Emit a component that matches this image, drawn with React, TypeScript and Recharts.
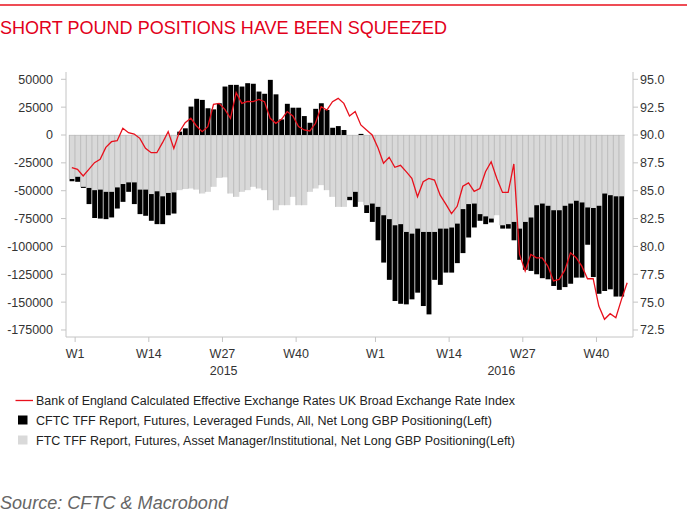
// Short pound positions: CFTC positioning bars (left) vs BoE sterling index (right)

import React from 'react';
import { ComposedChart, Bar, Line, XAxis, YAxis } from 'recharts';

// weekly categories, 2015 W1 .. 2016 W46
const weeks: string[] = [
  ...Array.from({ length: 53 }, (_, k) => `2015 W${k + 1}`),
  ...Array.from({ length: 46 }, (_, k) => `2016 W${k + 1}`),
];

// Asset Manager/Institutional net long GBP (contracts)
const assetManagers: (number | null)[] = [
  -39500, -37500, -46500, -47500, -49500, -49000, -51000, -51000, -47000, -44000,
  -42500, -42500, -49000, -49000, -53000, -50500, -55000, -52000, -51500, -49500,
  -48500, -48000, -49000, -52500, -51000, -46500, -38500, -38000, -52500, -55500,
  -51000, -49500, -46500, -48000, -49500, -58500, -67500, -63000, -63000, -55500,
  -63000, -63000, -51000, -48000, -45000, -49500, -55500, -64500, -64500, -55500,
  -51000, -60000, -63000, -61500, -64500, -72000, -75500, -81000, -80000, -87000,
  -88500, -84000, -87000, -87000, -87000, -84000, -84000, -83000, -79500, -66500,
  -62000, -61500, -71000, -73000, -75000, -72000, -81000, -80000, -78000, -84000,
  -78000, -74000, -63000, -61500, -63500, -67500, -67500, -63500, -61500, -59000,
  -60500, -65000, -65500, -63500, -52500, -54000, -55000, -55000, null,
];

// Leveraged Funds net long GBP (contracts)
const leveragedFunds: (number | null)[] = [
  -2000, -4500, -1000, -14500, -25000, -26000, -24500, -23000, -19000, -16000,
  -8500, -19500, -22000, -23500, -24000, -29500, -25000, -20000, -19000, 3000,
  6000, 25500, 32500, 31500, 24000, 23000, 28500, 43500, 45000, 45000,
  43500, 46500, 46000, 39000, 37000, 49500, 36500, 14000, 28000, 24500,
  24500, 17000, 11000, 23500, 28500, 22500, 6500, 8000, 4500, -3000,
  -13500, 1000, -7000, -16500, -30000, -42500, -54500, -68000, -71500, -65000,
  -59000, -57500, -66500, -74000, -43000, -50500, -39500, -40500, -35500, -39500,
  -30000, -21500, -6000, -7000, -3500, 0, -3000, -4000, -16500, -28000,
  -43000, -48000, -62000, -67000, -66000, -68000, -71500, -73000, -72000, -69000,
  -67500, -33500, -62000, -79000, -87500, -84500, -90000, -90000, null,
];

// BoE UK broad effective exchange rate index
const sterlingIndex: number[] = [
  87.07, 86.92, 86.32, 86.92, 87.52, 87.82, 88.89, 89.4, 89.49, 90.6,
  90.21, 90.09, 89.7, 88.8, 88.41, 88.41, 89.31, 90.3, 88.8, 90.3,
  91.11, 91.5, 90.81, 90.3, 90.75, 92.75, 92.84, 92.3, 91.5, 93.8,
  92.84, 93.02, 92.99, 93.2, 92.99, 91.5, 91.05, 91.41, 92.1, 91.71,
  90.75, 90.45, 90.36, 91.05, 92.54, 92.24, 92.99, 93.29, 92.84, 91.71,
  92.1, 90.9, 90.45, 90.0, 88.89, 87.46, 88.0, 87.1, 87.28, 86.71,
  86.11, 84.46, 85.81, 86.11, 85.96, 84.6, 83.8, 82.95, 83.6, 85.4,
  85.7, 84.94, 85.2, 86.7, 87.6, 86.1, 84.85, 84.85, 87.4, 79.28,
  77.8, 79.28, 78.98, 78.98, 78.23, 76.9, 77.04, 77.87, 79.43, 78.98,
  78.23, 77.1, 77.1, 74.65, 73.46, 73.96, 73.6, 75.25, 76.74,
];

const leftTicks = [50000, 25000, 0, -25000, -50000, -75000, -100000, -125000, -150000, -175000];
const rightTicks = [95, 92.5, 90, 87.5, 85, 82.5, 80, 77.5, 75, 72.5];
const weekTicks = ['2015 W1', '2015 W14', '2015 W27', '2015 W40', '2016 W1', '2016 W14', '2016 W27', '2016 W40'];
const yearTicks: Record<string, string> = { '2015 W27': '2015', '2016 W23': '2016' };

const legendItems = [
  'Bank of England Calculated Effective Exchange Rates UK Broad Exchange Rate Index',
  'CFTC TFF Report, Futures, Leveraged Funds, All, Net Long GBP Positioning(Left)',
  'FTC TFF Report, Futures, Asset Manager/Institutional, Net Long GBP Positioning(Left)',
];

const RED = '#e8101c';
const FONT = '"Liberation Sans", Arial, sans-serif';

const chartData = weeks.map((w, i) => ({
  week: w,
  asset: assetManagers[i],
  lev: leveragedFunds[i],
  gbp: sterlingIndex[i],
}));

function BlackBar(props: any) {
  const { x, y, width, height } = props;
  if (!height) return <g />;
  const top = height < 0 ? y + height : y;
  return <rect x={x + 0.55} y={top} width={Math.max(width - 1.1, 0)} height={Math.abs(height)} fill="#000" />;
}

function GrayBar(props: any) {
  const { x, y, width, height } = props;
  if (!height) return <g />;
  const top = height < 0 ? y + height : y;
  return (
    <g>
      <rect x={x} y={top} width={width} height={Math.abs(height)} fill="#d9d9d9" />
      <line x1={x + 0.3} x2={x + 0.3} y1={top} y2={top + Math.abs(height)} stroke="#b4b4b4" strokeWidth={0.8} />
      <line x1={x} x2={x + width} y1={top + 0.3} y2={top + 0.3} stroke="#b4b4b4" strokeWidth={0.6} />
    </g>
  );
}

function WeekTick(props: any) {
  const { x, y, payload } = props;
  const cat: string = payload.value;
  const tx = x + 3.3;
  return (
    <g>
      {weekTicks.includes(cat) && (
        <g>
          <line x1={tx} x2={tx} y1={y} y2={y + 5} stroke="#c4c4c4" />
          <text x={tx} y={y + 21} textAnchor="middle" fontSize={12.5} fill="#333" fontFamily={FONT}>
            {cat.split(' ')[1]}
          </text>
        </g>
      )}
      {yearTicks[cat] && (
        <text x={x + 4.5} y={y + 38} textAnchor="middle" fontSize={12.5} fill="#333" fontFamily={FONT}>
          {yearTicks[cat]}
        </text>
      )}
    </g>
  );
}

export default function App() {
  return (
    <div style={{ position: 'absolute', left: 0, top: 0, width: 687, height: 514, background: '#fff' }}>
      <ComposedChart
        width={687}
        height={514}
        data={chartData}
        stackOffset="sign"
        barCategoryGap={0}
        margin={{ top: 72, right: 0, bottom: 132, left: 0 }}
        style={{ fontFamily: FONT }}
      >
        <XAxis
          dataKey="week"
          interval={0}
          tickLine={false}
          tickSize={0}
          tickMargin={0}
          height={45}
          padding={{ left: 3, right: 3 }}
          axisLine={{ stroke: '#c4c4c4' }}
          tick={(p: any) => <WeekTick {...p} />}
        />
        <YAxis
          yAxisId="left"
          type="number"
          domain={[-181300, 56550]}
          allowDataOverflow
          ticks={leftTicks}
          width={66}
          tickSize={5}
          tickMargin={8}
          axisLine={{ stroke: '#c4c4c4' }}
          tickLine={{ stroke: '#c4c4c4' }}
          tick={{ fill: '#333', fontSize: 12.5 }}
        />
        <YAxis
          yAxisId="right"
          orientation="right"
          type="number"
          domain={[71.87, 95.655]}
          allowDataOverflow
          ticks={rightTicks}
          width={54}
          tickSize={5}
          tickMargin={2}
          axisLine={{ stroke: '#c4c4c4' }}
          tickLine={{ stroke: '#c4c4c4' }}
          tick={{ fill: '#333', fontSize: 12.5 }}
          tickFormatter={(v: number) => v.toFixed(1)}
        />
        <Bar yAxisId="left" dataKey="asset" stackId="pos" shape={GrayBar} isAnimationActive={false} />
        <Bar yAxisId="left" dataKey="lev" stackId="pos" shape={BlackBar} isAnimationActive={false} />
        <Line
          yAxisId="right"
          dataKey="gbp"
          type="linear"
          stroke={RED}
          strokeWidth={1.3}
          dot={false}
          isAnimationActive={false}
        />
      </ComposedChart>

      <svg
        width={687}
        height={514}
        style={{ position: 'absolute', left: 0, top: 0, pointerEvents: 'none' }}
        fontFamily={FONT}
      >
        <line x1={0} x2={687} y1={5} y2={5} stroke={RED} strokeWidth={1.5} />
        <text x={0} y={34} fontSize={18.5} fill="#e2001a" textLength={447} lengthAdjust="spacingAndGlyphs">
          SHORT POUND POSITIONS HAVE BEEN SQUEEZED
        </text>

        <line x1={15.5} x2={33} y1={400.5} y2={400.5} stroke={RED} strokeWidth={1.3} />
        <text x={36} y={405} fontSize={12.5} fill="#222" textLength={479} lengthAdjust="spacingAndGlyphs">
          {legendItems[0]}
        </text>
        <rect x={18} y={415.5} width={9.5} height={9} fill="#000" />
        <text x={36} y={425} fontSize={12.5} fill="#222" textLength={456} lengthAdjust="spacingAndGlyphs">
          {legendItems[1]}
        </text>
        <rect x={18} y={435.5} width={9.5} height={9} fill="#d9d9d9" />
        <text x={36} y={445} fontSize={12.5} fill="#222" textLength={479} lengthAdjust="spacingAndGlyphs">
          {legendItems[2]}
        </text>

        <text x={0} y={509} fontSize={18} fontStyle="italic" fill="#666" textLength={228} lengthAdjust="spacingAndGlyphs">
          Source: CFTC &amp; Macrobond
        </text>
      </svg>
    </div>
  );
}
